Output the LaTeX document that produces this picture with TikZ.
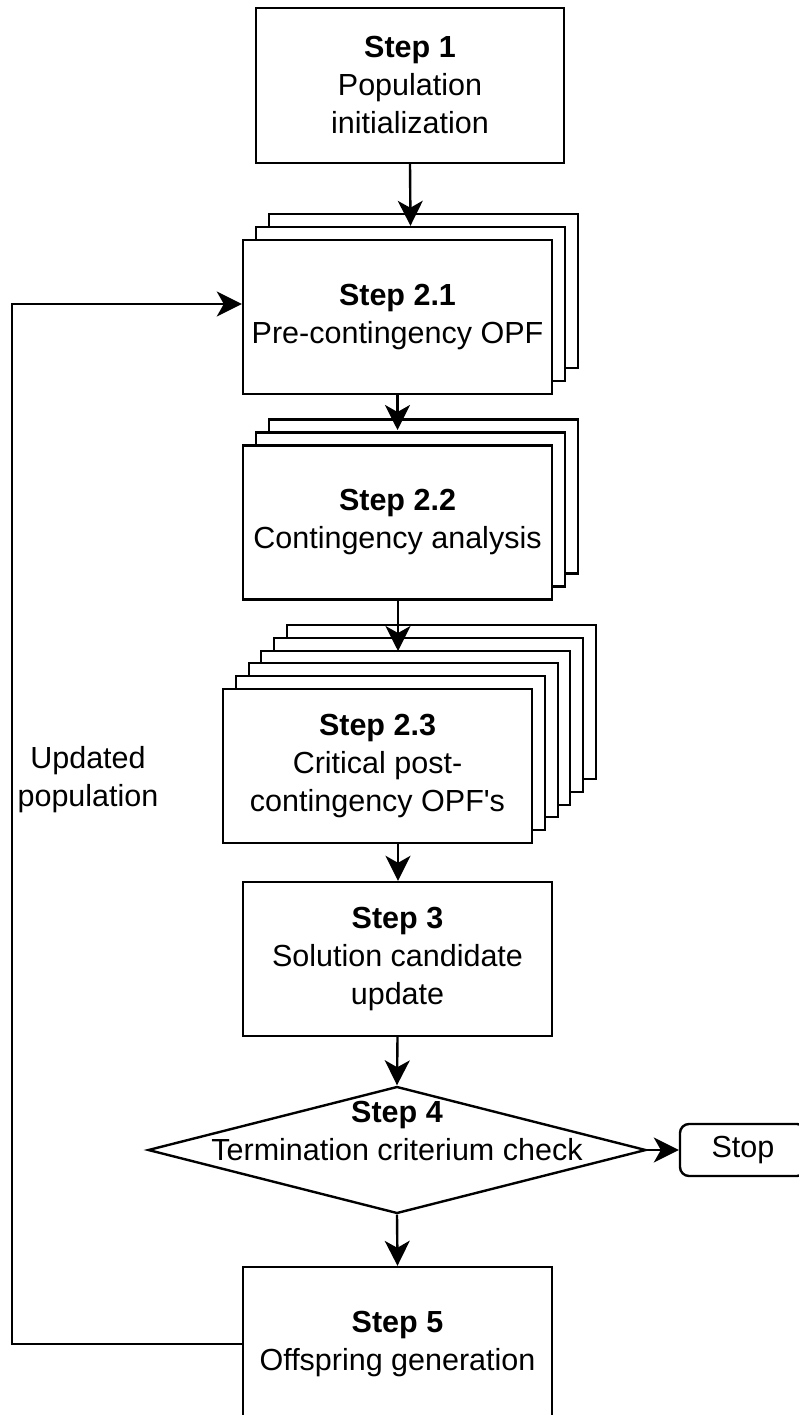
\documentclass[tikz,border=0pt]{standalone}
\usepackage{fontspec}
\setmainfont{Liberation Sans}
\usetikzlibrary{arrows.meta,shapes.geometric}

\tikzset{
  stepbox/.style={draw, line width=2.4pt, fill=white, minimum width=309pt,
    minimum height=154pt, inner sep=0pt, align=center},
  layer/.style={stepbox},
  decision/.style={draw, line width=2.4pt, fill=white, diamond, inner sep=0pt,
    minimum width=498pt, minimum height=127pt},
  stopbox/.style={draw, line width=2.4pt, fill=white, rounded corners=9pt,
    minimum width=126pt, minimum height=52pt, inner sep=0pt},
  txt/.style={align=center, inner sep=0pt},
  flow/.style={line width=2.4pt, -{Stealth[length=25pt 0, width=25pt 0, inset=7pt 0]}},
  link/.style={line width=2.4pt}
}

\begin{document}
\begin{tikzpicture}[x=1pt, y=-1pt, font=\fontsize{30.5pt}{38pt}\selectfont]
\useasboundingbox (0,0) rectangle (799,1415);

% Step 1
\node[stepbox, minimum width=308pt, minimum height=155pt] (s1) at (410,85.5)
  {\textbf{Step 1}\\Population\\initialization};

% Step 2.1: stack of three sheets
\node[layer] (s21b) at (423.5,291) {};
\node[layer] (s21m) at (410.5,304) {};
\node[stepbox] (s21) at (397.5,317) {\textbf{Step 2.1}\\Pre-contingency OPF};

% Step 2.2: stack of three sheets
\node[layer] (s22b) at (423.5,496.5) {};
\node[layer] (s22m) at (410.5,509.5) {};
\node[stepbox] (s22) at (397.5,522.5) {\textbf{Step 2.2}\\Contingency analysis};

% Step 2.3: stack of six sheets
\node[layer] (s23e) at (441.5,702) {};
\node[layer] (s23d) at (428.5,715) {};
\node[layer] (s23c) at (415.5,728) {};
\node[layer] (s23b) at (403.5,740) {};
\node[layer] (s23a) at (390.5,753) {};
\node[stepbox] (s23) at (377.5,766)
  {\textbf{Step 2.3}\\Critical post-\\contingency OPF\textquotesingle s};

% Step 3
\node[stepbox] (s3) at (397.5,959) {\textbf{Step 3}\\Solution candidate\\update};

% Step 4: decision
\node[decision] (s4) at (397,1150) {};
\node[txt] (s4t) at (397,1131) {\textbf{Step 4}\\Termination criterium check};

% Stop
\node[stopbox] (stop) at (743,1150) {\raisebox{-1pt}{Stop}};

% Step 5
\node[stepbox] (s5) at (397.5,1344) {\textbf{Step 5}\\Offspring generation};

% Loop label
\node[txt] (upd) at (88,780) {Updated\\population};

% Connectors
\coordinate (fbl) at (12,304);
\draw[flow] (s1.south) -- (s21m.north);
\draw[flow] (s21.south) -- (s21.south |- 0,430);
\draw[flow] (398,599) -- (398,651);
\draw[flow] (398,843) -- (s3.north -| 398,0);
\draw[flow] (s3.south) -- (s4.north);
\draw[flow] (s4.east) -- (stop.west);
\draw[flow] (s4.south) -- (s5.north);
\draw[flow] (s5.west) -| (fbl) -- (s21.west |- fbl);
\end{tikzpicture}
\end{document}
